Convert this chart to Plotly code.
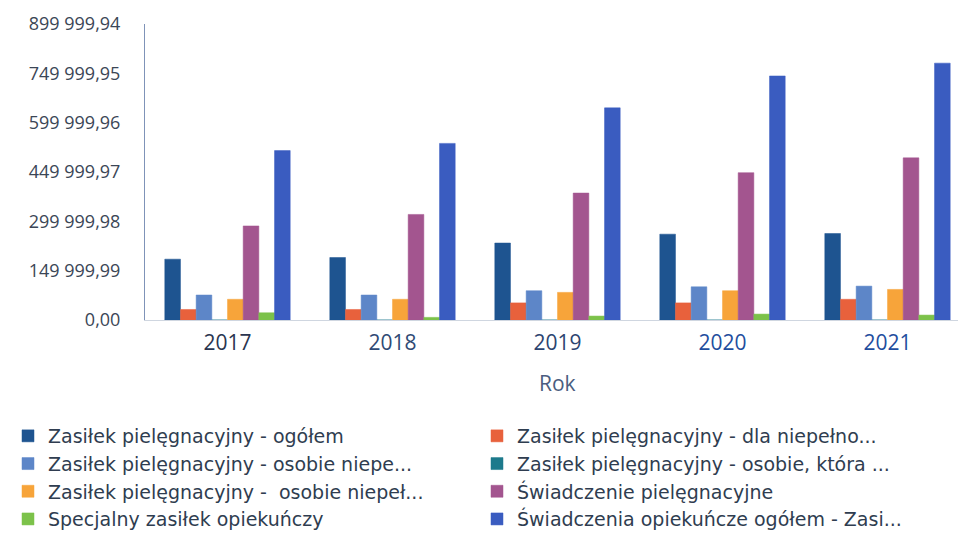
import plotly.graph_objects as go

# Years on the category axis
years = ["2017", "2018", "2019", "2020", "2021"]

# Series (PLN), one list per benefit type
zasilek_ogolem = [185000, 190000, 234000, 261000, 263000]
zasilek_dla_niepelno = [32000, 32000, 52000, 52000, 63000]
zasilek_osobie_niepe = [76000, 76000, 89000, 101000, 103000]
zasilek_osobie_ktora = [0, 0, 0, 0, 0]
zasilek_osobie_niepel = [63000, 63000, 84000, 89000, 93000]
swiadczenie_pielegnacyjne = [286000, 321000, 386000, 448000, 493000]
specjalny_zasilek = [22000, 8000, 12000, 18000, 15000]
swiadczenia_ogolem = [515000, 537000, 645000, 742000, 781000]

series_names = [
    "Zasiłek pielęgnacyjny - ogółem",
    "Zasiłek pielęgnacyjny - dla niepełno...",
    "Zasiłek pielęgnacyjny - osobie niepe...",
    "Zasiłek pielęgnacyjny - osobie, która ...",
    "Zasiłek pielęgnacyjny - \u00a0osobie niepeł...",
    "Świadczenie pielęgnacyjne",
    "Specjalny zasiłek opiekuńczy",
    "Świadczenia opiekuńcze ogółem - Zasi...",
]
series_values = [
    zasilek_ogolem, zasilek_dla_niepelno, zasilek_osobie_niepe, zasilek_osobie_ktora,
    zasilek_osobie_niepel, swiadczenie_pielegnacyjne, specjalny_zasilek, swiadczenia_ogolem,
]
series_colors = [
    "#1e5490", "#e8613c", "#5d86c8", "#1d7a8c",
    "#f7a43a", "#a3558f", "#7cc24a", "#3a5cc0",
]

# Y-axis ticks
y_tickvals = [0, 149999.99, 299999.98, 449999.97, 599999.96, 749999.95, 899999.94]
y_ticktext = ["0,00", "149 999,99", "299 999,98", "449 999,97",
              "599 999,96", "749 999,95", "899 999,94"]
x_tick_colors = ["#2a3550", "#2f4a75", "#2c4470", "#1f4e9e", "#1f4e9e"]

fig = go.Figure()
for name, vals, color in zip(series_names, series_values, series_colors):
    fig.add_trace(go.Bar(
        x=years, y=vals, name=name,
        marker=dict(color=color, line=dict(color=color, width=0.5)),
    ))

W, H = 958, 542
ml, mt, mb = 145, 24, 222
plot_w = W - ml
plot_h = H - mt - mb
plot_bottom = mt + plot_h

fig.update_layout(
    width=W, height=H,
    margin=dict(l=ml, r=0, t=mt, b=mb, pad=0, autoexpand=False),
    plot_bgcolor="white", paper_bgcolor="white",
    barmode="group", bargap=0.24, bargroupgap=0,
    font=dict(family="Open Sans", color="#2f3d50"),
    showlegend=True,
    legend=dict(
        orientation="h",
        x=(8 - ml) / plot_w, xanchor="left",
        y=-(417 - plot_bottom) / plot_h, yanchor="top",
        entrywidth=424, entrywidthmode="pixels",
        font=dict(size=19, color="#2f3d50", family="DejaVu Sans"),
        traceorder="normal",
        itemclick=False,
    ),
    xaxis=dict(
        type="category",
        range=[-0.5, -0.5 + plot_w / 165.0],
        tickmode="array",
        tickvals=years,
        ticktext=[f'<span style="color:{c}">{y}</span>' for y, c in zip(years, x_tick_colors)],
        tickfont=dict(size=21, family="Open Sans"),
        ticks="", ticklabelstandoff=4,
        showline=True, linecolor="#cfd6e0", linewidth=1,
        showgrid=False, zeroline=False,
    ),
    yaxis=dict(
        range=[0, 899999.94],
        tickmode="array", tickvals=y_tickvals, ticktext=y_ticktext,
        tickfont=dict(size=18, color="#3b4656", family="Open Sans"),
        ticks="", ticklabelstandoff=20,
        showline=True, linecolor="#7f93b8", linewidth=1,
        showgrid=False, zeroline=False,
    ),
    annotations=[dict(
        text="Rok", xref="paper", yref="paper",
        x=(557 - ml) / plot_w, y=-(383 - plot_bottom) / plot_h,
        xanchor="center", yanchor="middle", showarrow=False,
        font=dict(size=21, color="#4a5d80", family="Open Sans"),
    )],
)

fig.write_html("out.html")
